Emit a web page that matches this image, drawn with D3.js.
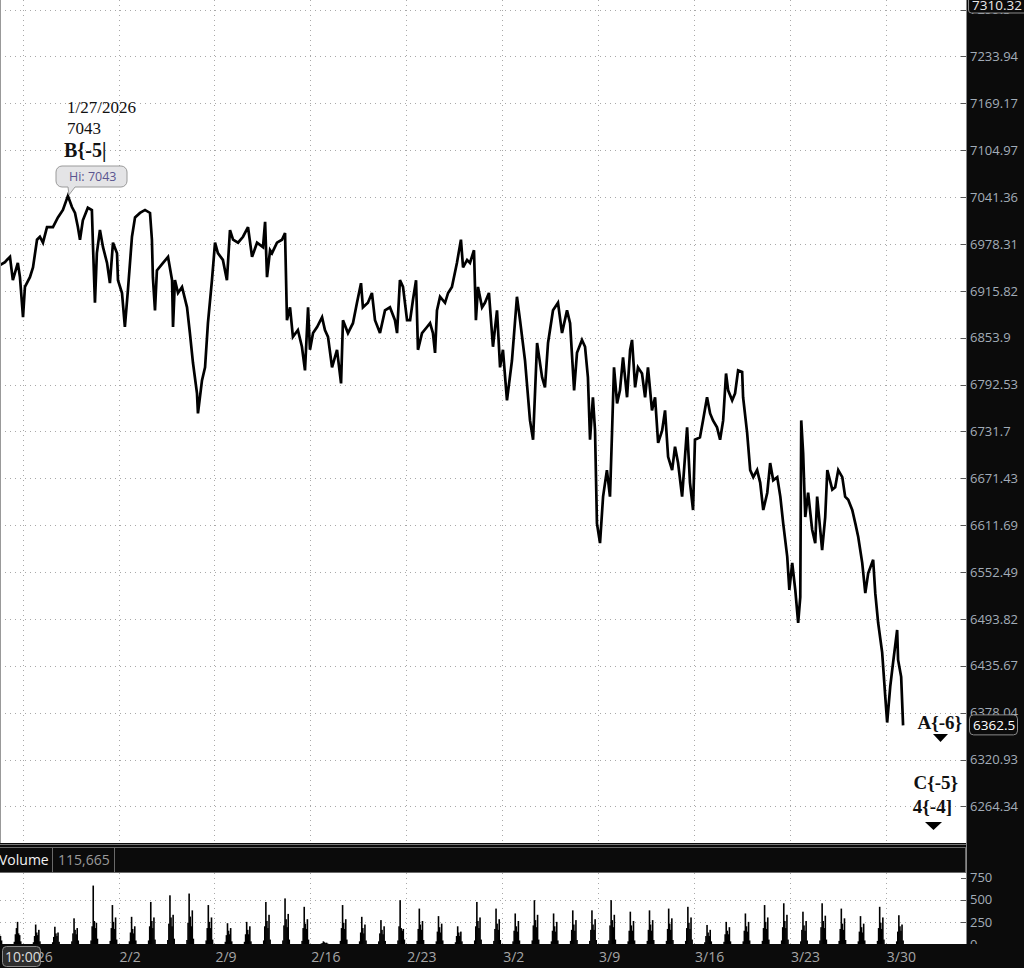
<!DOCTYPE html>
<html><head><meta charset="utf-8">
<script src="https://cdn.jsdelivr.net/npm/d3@7"></script>
<style>html,body{margin:0;padding:0;background:#fff;overflow:hidden}</style>
</head><body>
<svg id="c" width="1024" height="968"></svg>
<script>
// ---- DATA ----
// session position in trading days since the 1/26 session open
const sessionT = [-1.18,-0.92,-0.82,-0.66,-0.51,-0.25,-0.14,0.02,0.12,0.38,0.54,0.75,0.90,1.06,1.27,1.58,1.84,2.10,2.36,2.57,2.73,2.88,2.99,3.14,3.40,3.61,3.67,3.77,3.87,4.03,4.19,4.40,4.55,4.71,4.92,4.97,5.18,5.33,5.49,5.70,5.86,6.12,6.38,6.64,6.74,6.79,6.90,7.00,7.32,7.58,7.79,7.84,7.94,8.10,8.31,8.57,8.72,8.88,9.09,9.14,9.35,9.51,9.66,9.87,10.03,10.18,10.44,10.65,10.81,10.97,11.23,11.49,11.75,11.96,12.22,12.53,12.64,12.74,12.90,13.00,13.26,13.52,13.68,13.78,13.94,14.09,14.35,14.56,14.72,14.88,14.98,15.14,15.35,15.61,15.76,15.92,16.13,16.39,16.60,16.70,16.96,17.22,17.43,17.64,17.74,18.00,18.21,18.37,18.63,18.89,19.15,19.41,19.52,19.67,19.83,20.04,20.20,20.35,20.51,20.61,20.82,21.08,21.24,21.39,21.50,21.60,21.76,22.02,22.18,22.38,22.64,22.85,22.96,23.17,23.32,23.53,23.63,23.74,23.95,24.10,24.31,24.52,24.73,24.89,25.04,25.25,25.51,25.77,25.93,26.19,26.45,26.61,26.82,27.08,27.23,27.39,27.65,27.91,28.12,28.38,28.54,28.75,28.90,29.16,29.32,29.47,29.58,29.73,29.84,29.94,30.10,30.26,30.46,30.62,30.73,30.83,30.99,31.14,31.30,31.51,31.67,31.77,31.93,32.08,32.29,32.45,32.60,32.81,32.97,33.13,33.34,33.49,33.65,33.86,34.01,34.17,34.38,34.53,34.64,34.79,34.95,35.05,35.31,35.47,35.68,35.84,35.99,36.20,36.36,36.52,36.67,36.78,36.99,37.14,37.30,37.51,37.56,37.77,37.93,38.09,38.29,38.45,38.61,38.82,38.97,39.13,39.34,39.50,39.65,39.86,39.97,40.12,40.28,40.43,40.54,40.59,40.69,40.80,40.95,41.16,41.32,41.42,41.68,41.84,41.95,42.21,42.36,42.52,42.73,42.88,43.04,43.25,43.41,43.56,43.77,43.93,44.08,44.34,44.45,44.60,44.81,44.97,45.07,45.23,45.38,45.59,45.64,45.80,45.90];
const closeV = [6950,6954,6957,6961,6930,6953,6934,6881,6921,6934,6947,6984,6988,6980,7001,7001,7014,7024,7043,7028,7020,7001,6984,7010,7027,7024,6974,6900,6966,6997,6974,6953,6926,6980,6966,6930,6913,6868,6917,6988,7014,7020,7024,7020,6984,6934,6890,6943,6953,6961,6930,6868,6930,6913,6921,6894,6860,6821,6781,6755,6798,6815,6873,6930,6980,6966,6957,6930,6997,6984,6980,6988,7001,6961,6980,6974,7008,6934,6970,6966,6980,6984,6993,6877,6894,6855,6864,6842,6811,6894,6838,6860,6868,6881,6864,6855,6815,6838,6794,6877,6860,6873,6900,6926,6894,6900,6913,6877,6860,6890,6894,6877,6860,6930,6921,6877,6877,6904,6930,6838,6860,6868,6873,6860,6834,6890,6908,6900,6913,6921,6953,6984,6947,6957,6953,6970,6877,6921,6894,6900,6913,6842,6890,6815,6838,6772,6824,6908,6877,6824,6746,6721,6847,6802,6789,6847,6890,6900,6860,6890,6873,6785,6834,6851,6842,6802,6721,6776,6733,6614,6589,6648,6682,6648,6733,6815,6768,6785,6828,6776,6838,6851,6789,6815,6807,6776,6815,6759,6776,6717,6733,6759,6699,6682,6712,6691,6648,6699,6737,6666,6631,6721,6724,6746,6776,6755,6746,6737,6721,6746,6807,6785,6772,6781,6811,6809,6776,6730,6682,6673,6682,6666,6631,6653,6691,6669,6673,6648,6614,6572,6530,6564,6530,6489,6521,6746,6704,6622,6653,6606,6589,6648,6580,6622,6682,6657,6660,6682,6673,6648,6644,6631,6614,6597,6564,6526,6551,6568,6526,6489,6452,6398,6366,6410,6440,6480,6443,6422,6362.5];

// volume: one cluster of bars per trading day (day index since 1/26)
const volumeDays = [-2,-1,0,1,2,3,4,5,6,7,8,9,10,11,12,13,14,15,16,17,18,19,20,21,22,23,24,25,26,27,28,29,30,31,32,33,34,35,36,37,38,39,40,41,42,43,44,45];
const volumeBars = [
 [30,120,290,150,110,90,40],[25,110,180,250,120,100,30],[20,90,220,130,100,160,30],[20,80,195,120,90,130,25],
 [30,120,290,160,110,180,40],[40,200,660,260,180,240,60],[35,180,440,250,170,300,50],[30,130,307,170,120,200,40],
 [40,200,475,260,180,300,50],[45,230,550,300,200,330,60],[45,240,570,310,200,380,60],[40,180,440,250,180,300,50],
 [25,100,235,150,110,180,30],[25,110,250,160,110,200,30],[40,200,475,260,180,330,50],[40,210,515,280,190,340,50],
 [35,180,420,230,170,280,50],[5,10,30,20,10,15,5],[35,180,440,240,170,280,50],[30,130,307,180,120,220,40],
 [30,120,270,160,110,200,35],[40,200,495,180,150,170,50],[35,170,400,220,160,260,45],[30,140,315,190,130,230,40],
 [20,90,200,130,90,140,30],[40,200,475,260,180,300,50],[35,170,400,230,160,280,45],[30,150,345,200,140,260,40],
 [40,210,495,270,190,330,50],[30,150,345,200,140,250,40],[35,160,380,220,150,270,45],[35,160,380,220,160,280,45],
 [40,210,495,270,190,330,50],[30,150,365,210,150,260,40],[35,160,380,220,150,270,45],[35,170,400,230,160,290,45],
 [35,180,420,240,170,300,50],[20,90,215,130,90,160,30],[25,110,250,150,110,190,30],[30,150,345,200,140,250,40],
 [35,180,440,250,170,300,50],[40,190,460,260,180,330,50],[30,160,365,210,150,260,40],[40,190,460,260,180,320,50],
 [35,170,400,230,160,290,45],[30,140,315,190,130,230,40],[35,180,420,240,170,300,50],[30,140,325,200,150,220,40]
];

const weekTicks = [0,5,10,15,20,25,30,35,40,45];
const weekLabels = ["1/26","2/2","2/9","2/16","2/23","3/2","3/9","3/16","3/23","3/30"];
const priceTicks = [7299.3,7233.94,7169.17,7104.97,7041.36,6978.31,6915.82,6853.9,6792.53,6731.7,6671.43,6611.69,6552.49,6493.82,6435.67,6378.04,6320.93,6264.34];
const volTicks = [750,500,250,0];
const volGridTicks = [500,250];
const lastPrice = 6362.5;
const topPrice = 7310.32;
const volumeTotal = "115,665";
const hiDate = "1/27/2026", hiValue = 7043, hiT = 2.36;

// ---- LAYOUT ----
const W = 1024, H = 968, plotR = 966, mainB = 843, volT = 873, volB = 944;
const svg = d3.select("#c");
const x = d3.scaleLinear().domain([-1.18, 49.18]).range([0, plotR]);
const y = d3.scaleLog().domain([6220.5, 7312.8]).range([mainB, 0]);
const vy = d3.scaleLinear().domain([0, 802]).range([volB, volT]);
const grid = "#a8a8a8";
const axisCol = "#a3adb8";
const sans = "'Open Sans', 'DejaVu Sans', sans-serif";
const serif = "'Liberation Serif', 'DejaVu Serif', serif";

svg.append("rect").attr("width", W).attr("height", H).attr("fill", "#fff");

// main gridlines
const gm = svg.append("g");
gm.selectAll(".hg").data(priceTicks).join("line")
  .attr("x1", 0).attr("x2", plotR).attr("y1", d => Math.round(y(d)) + 0.5).attr("y2", d => Math.round(y(d)) + 0.5)
  .attr("stroke", grid).attr("stroke-dasharray", "1,4");
gm.selectAll(".vg").data(weekTicks).join("line")
  .attr("x1", d => Math.round(x(d)) + 0.5).attr("x2", d => Math.round(x(d)) + 0.5).attr("y1", 0).attr("y2", mainB)
  .attr("stroke", grid).attr("stroke-dasharray", "1,4");

// price line
svg.append("clipPath").attr("id", "cp").append("rect").attr("x", 0).attr("y", 0).attr("width", plotR).attr("height", mainB);
const line = d3.line().x((d, i) => x(sessionT[i])).y(d => y(d));
svg.append("path").attr("clip-path", "url(#cp)").datum(closeV).attr("d", line)
  .attr("fill", "none").attr("stroke", "#000").attr("stroke-width", 2.7).attr("stroke-linejoin", "miter").attr("stroke-miterlimit", 3);

// left border
svg.append("line").attr("x1", 0.5).attr("x2", 0.5).attr("y1", 0).attr("y2", mainB).attr("stroke", "#999");

// Hi annotation
const hx = x(hiT), hy = y(hiValue);
const ann = svg.append("g").attr("font-family", serif).attr("fill", "#111");
ann.append("text").attr("x", 67).attr("y", 113).attr("font-size", 17).text(hiDate);
ann.append("text").attr("x", 67).attr("y", 134).attr("font-size", 17).text(hiValue);
ann.append("text").attr("x", 64).attr("y", 157).attr("font-size", 20).attr("font-weight", "bold").text("B{-5|");
const cb = svg.append("g");
cb.append("path").attr("d", `M${62},166 h59 a6,6 0 0 1 6,6 v9 a6,6 0 0 1 -6,6 h-46 l-6,${hy - 188} l-1,${188 - hy} h-6 a6,6 0 0 1 -6,-6 v-9 a6,6 0 0 1 6,-6 z`)
  .attr("fill", "#e4e4e6").attr("stroke", "#9a9a9a").attr("stroke-width", 1);
cb.append("text").attr("x", 69).attr("y", 181).attr("font-family", sans).attr("font-size", 12.5).attr("fill", "#5a5590").text("Hi: " + hiValue);

// right annotations
const ra = svg.append("g").attr("font-family", serif).attr("font-weight", "bold").attr("fill", "#111").attr("font-size", 19);
ra.append("text").attr("x", 962).attr("y", 729).attr("text-anchor", "end").text("A{-6}");
ra.append("text").attr("x", 958).attr("y", 789).attr("text-anchor", "end").text("C{-5}");
ra.append("text").attr("x", 952).attr("y", 813).attr("text-anchor", "end").text("4{-4]");
svg.append("path").attr("d", "M933,734 h15 l-7.5,8 z").attr("fill", "#000");
svg.append("path").attr("d", "M925,822 h17 l-8.5,8 z").attr("fill", "#000");

// volume header band
svg.append("rect").attr("x", 0).attr("y", mainB).attr("width", W).attr("height", volT - mainB).attr("fill", "#0b0b0b");
svg.append("line").attr("x1", 0).attr("x2", plotR).attr("y1", mainB + 1.5).attr("y2", mainB + 1.5).attr("stroke", "#777");
svg.append("rect").attr("x", -1).attr("y", 847.5).attr("width", plotR + 0.5).attr("height", 25).attr("fill", "none").attr("stroke", "#6a6a6a");
svg.append("line").attr("x1", 52.5).attr("x2", 52.5).attr("y1", 848).attr("y2", 872).attr("stroke", "#6a6a6a");
svg.append("line").attr("x1", 114.5).attr("x2", 114.5).attr("y1", 848).attr("y2", 872).attr("stroke", "#6a6a6a");
svg.append("text").attr("x", -1).attr("y", 865).attr("font-family", sans).attr("font-size", 14).attr("fill", "#f2f2f2").text("Volume");
svg.append("text").attr("x", 58).attr("y", 865).attr("font-family", sans).attr("font-size", 14).attr("fill", "#9a9a9a").text(volumeTotal);

// volume panel
svg.append("rect").attr("x", 0).attr("y", volT).attr("width", plotR).attr("height", volB - volT).attr("fill", "#fff");
svg.selectAll(".vh").data(volGridTicks).join("line")
  .attr("x1", 0).attr("x2", plotR).attr("y1", d => Math.round(vy(d)) + 0.5).attr("y2", d => Math.round(vy(d)) + 0.5)
  .attr("stroke", grid).attr("stroke-dasharray", "1,4");
svg.selectAll(".vv").data(weekTicks).join("line")
  .attr("x1", d => Math.round(x(d)) + 0.5).attr("x2", d => Math.round(x(d)) + 0.5).attr("y1", volT).attr("y2", volB)
  .attr("stroke", grid).attr("stroke-dasharray", "1,4");
const vbars = [];
volumeDays.forEach((d, k) => volumeBars[k].forEach((v, i) => vbars.push({t: d + 0.57 + i * 0.055, v})));
svg.append("clipPath").attr("id", "cv").append("rect").attr("x", 0).attr("y", volT).attr("width", plotR).attr("height", volB - volT);
svg.append("g").attr("clip-path", "url(#cv)").selectAll("rect").data(vbars).join("rect")
  .attr("x", d => x(d.t) - 0.8).attr("width", 1.6)
  .attr("y", d => vy(d.v)).attr("height", d => vy(0) - vy(d.v)).attr("fill", "#000");

// right axis panel
svg.append("rect").attr("x", plotR).attr("y", 0).attr("width", W - plotR).attr("height", H).attr("fill", "#0b0b0b");
svg.append("line").attr("x1", plotR + 0.5).attr("x2", plotR + 0.5).attr("y1", 0).attr("y2", volB).attr("stroke", "#888");
const ra2 = svg.append("g").attr("font-family", sans).attr("font-size", 13);
ra2.selectAll("line").data(priceTicks).join("line")
  .attr("x1", 961).attr("x2", 966).attr("y1", d => Math.round(y(d)) + 0.5).attr("y2", d => Math.round(y(d)) + 0.5).attr("stroke", "#555");
ra2.selectAll("text").data(priceTicks).join("text")
  .attr("x", 970).attr("y", d => y(d)).attr("dy", "0.36em").attr("fill", axisCol).text(d => d);
const va = svg.append("g").attr("font-family", sans).attr("font-size", 13);
va.selectAll("line").data(volTicks).join("line")
  .attr("x1", 961).attr("x2", 966).attr("y1", d => Math.round(vy(d)) + 0.5).attr("y2", d => Math.round(vy(d)) + 0.5).attr("stroke", "#555");
va.selectAll("text").data(volTicks).join("text")
  .attr("x", 970).attr("y", d => vy(d)).attr("dy", "0.36em").attr("fill", axisCol).text(d => d);

// top value box
svg.append("rect").attr("x", 968.5).attr("y", -6).attr("width", 60).attr("height", 19).attr("rx", 3).attr("fill", "#0b0b0b").attr("stroke", "#8a8a8a");
svg.append("text").attr("x", 972).attr("y", 10).attr("font-family", sans).attr("font-size", 13.5).attr("fill", "#e8e8e8").text(topPrice);
// last price box
const ly = y(lastPrice);
svg.append("rect").attr("x", 969.5).attr("y", ly - 10.5).attr("width", 48).attr("height", 20).attr("rx", 4).attr("fill", "#0b0b0b").attr("stroke", "#8a8a8a");
svg.append("text").attr("x", 973).attr("y", ly).attr("dy", "0.36em").attr("font-family", sans).attr("font-size", 13.5).attr("fill", "#ffffff").text(lastPrice);

// bottom date axis
svg.append("rect").attr("x", 0).attr("y", volB).attr("width", W).attr("height", H - volB).attr("fill", "#0b0b0b");
svg.selectAll(".xl").data(weekTicks).join("text")
  .attr("x", d => x(d) + 1).attr("y", 962).attr("font-family", sans).attr("font-size", 14).attr("fill", "#a6a6a6")
  .text((d, i) => weekLabels[i]);
svg.append("rect").attr("x", 2.5).attr("y", 946.5).attr("width", 38).attr("height", 20).attr("rx", 4).attr("fill", "#2e2e2e").attr("stroke", "#8a8a8a");
svg.append("text").attr("x", 5).attr("y", 962).attr("font-family", sans).attr("font-size", 14).attr("fill", "#dcdcdc").text("10:00");
</script>
</body></html>
